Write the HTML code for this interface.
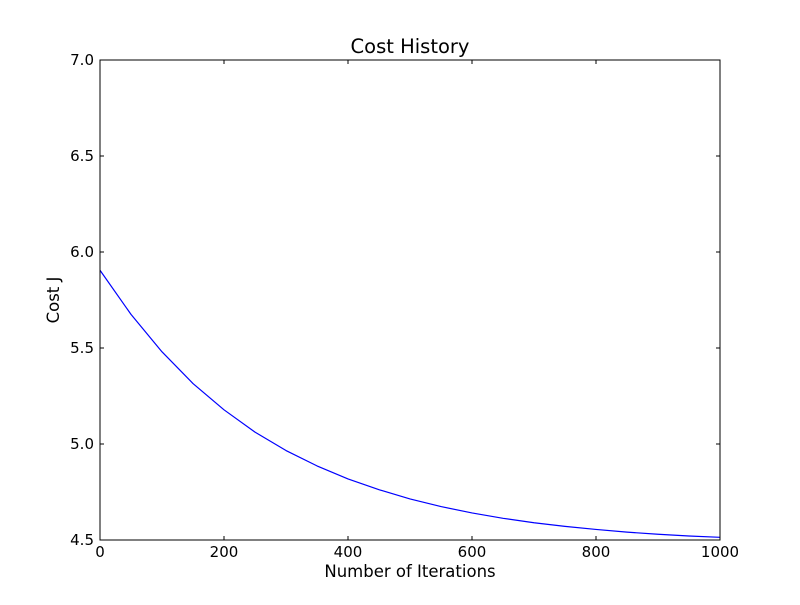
<!DOCTYPE html>
<html><head><meta charset="utf-8"><style>
body{margin:0;background:#fff;}
svg text{font-family:"DejaVu Sans","Liberation Sans",sans-serif;fill:#000;}
</style></head><body>
<svg id="chart" width="800" height="600" xmlns="http://www.w3.org/2000/svg">
<rect width="800" height="600" fill="#fff"/>
<text x="410" y="53" font-size="19.5" text-anchor="middle">Cost History</text>
<text x="410" y="577" font-size="16.5" text-anchor="middle">Number of Iterations</text>
<text x="59" y="300" font-size="16.5" text-anchor="middle" transform="rotate(-90 59 300)">Cost J</text>
<g id="ticks"></g>
<polyline id="line" fill="none" stroke="#0000ff" stroke-width="1.2" stroke-linejoin="round"/>
<rect x="100" y="60" width="620" height="480" fill="none" stroke="#000" stroke-width="1"/>
</svg>
<script>
const iterations=[0,50,100,150,200,250,300,350,400,450,500,550,600,650,700,750,800,850,900,950,1000];
const costs=[5.905,5.675,5.480,5.315,5.178,5.062,4.966,4.886,4.818,4.762,4.714,4.674,4.641,4.613,4.590,4.571,4.555,4.541,4.530,4.521,4.514];
const xTicks=[0,200,400,600,800,1000];
const yTicks=[4.5,5.0,5.5,6.0,6.5,7.0];
const xLabels=["0","200","400","600","800","1000"];
const yLabels=["4.5","5.0","5.5","6.0","6.5","7.0"];
const X=v=>100+v/1000*620;
const Y=v=>540-(v-4.5)/2.5*480;
const ns="http://www.w3.org/2000/svg";
const g=document.getElementById('ticks');
function mk(tag,attrs){const e=document.createElementNS(ns,tag);for(const k in attrs)e.setAttribute(k,attrs[k]);return e;}
xTicks.forEach((t,i)=>{
  const x=X(t);
  const a=mk('line',{x1:x,x2:x,y1:540,y2:536,stroke:'#000'});
  
  
  g.appendChild(a);
  const b=mk('line',{x1:x,x2:x,y1:60,y2:64,stroke:'#000'});
  
  
  g.appendChild(b);
  const tx=mk('text',{x:x,y:557,'font-size':15,'text-anchor':'middle'});
  tx.textContent=xLabels[i];
  
  
  g.appendChild(tx);
});
yTicks.forEach((t,i)=>{
  const y=Y(t);
  const a=mk('line',{x1:100,x2:104,y1:y,y2:y,stroke:'#000'});
  
  
  g.appendChild(a);
  const b=mk('line',{x1:716,x2:720,y1:y,y2:y,stroke:'#000'});
  
  
  g.appendChild(b);
  const tx=mk('text',{x:94,y:y+5,'font-size':15,'text-anchor':'end'});
  tx.textContent=yLabels[i];
  
  
  g.appendChild(tx);
});
document.getElementById('line').setAttribute('points',iterations.map((it,i)=>X(it)+','+Y(costs[i])).join(' '));
</script>
</body></html>
